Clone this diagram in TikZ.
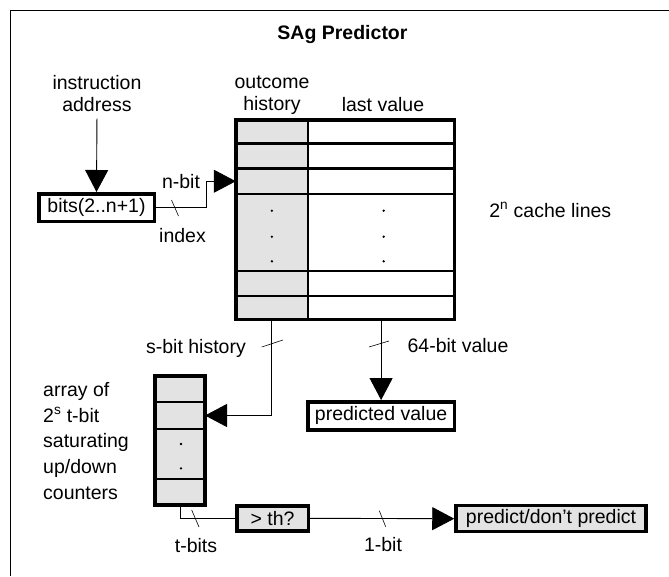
\documentclass[tikz,border=0pt]{standalone}
\usepackage{fontspec}
\setmainfont{Liberation Sans}
\usetikzlibrary{arrows.meta}

\begin{document}
\begin{tikzpicture}[x=1pt, y=-1pt,
    every node/.style={font=\fontsize{19.5}{23}\selectfont},
    bigarrow/.style={-{Triangle[length=22pt, width=23pt]}, line width=0.9pt},
    wire/.style={line width=0.9pt},
    bitmark/.style={line width=0.6pt},
    thickbox/.style={draw, rectangle, line width=3.5pt, inner sep=0pt},
    cell/.style={draw, rectangle, line width=2.3pt, inner sep=0pt, outer sep=0pt},
    shaded/.style={fill=gray!22}]
    \useasboundingbox (0,0) rectangle (669,576);

    % Cadre
    \draw[line width=1pt] (10,576) -- (10,10) -- (669,10);

    % Titre
    \node[font=\fontsize{19.5}{23}\selectfont\bfseries, anchor=base] (title) at (342.5,39) {SAg Predictor};

    % Adresse d'instruction
    \node[align=center, anchor=north, inner sep=0pt, font=\fontsize{19.5}{22}\selectfont] (addr) at (97,75) {instruction\\address};
    \node[thickbox, fill=white, minimum width=115.5pt, minimum height=27.5pt] (bits) at (96.5,207.5) {bits(2..n+1)};

    % Table des lignes de cache
    \node[align=center, anchor=north, inner sep=0pt, font=\fontsize{19.5}{22}\selectfont] (outhist) at (272,75.5) {outcome\\history};
    \node[anchor=base] (lastval) at (383,111) {last value};
    \node[cell, shaded, minimum width=72.25pt, minimum height=23.75pt] (h1) at (271.9,131.6) {};
    \node[cell, shaded, minimum width=72.25pt, minimum height=25pt] (h2) at (271.9,156) {};
    \node[cell, shaded, minimum width=72.25pt, minimum height=25.5pt] (h3) at (271.9,181.25) {};
    \node[cell, shaded, minimum width=72.25pt, minimum height=77pt] (h4) at (271.9,232.5) {};
    \node[cell, shaded, minimum width=72.25pt, minimum height=25pt] (h5) at (271.9,283.5) {};
    \node[cell, shaded, minimum width=72.25pt, minimum height=23.25pt] (h6) at (271.9,307.6) {};
    \node[cell, fill=white, minimum width=146.25pt, minimum height=23.75pt] (v1) at (381.1,131.6) {};
    \node[cell, fill=white, minimum width=146.25pt, minimum height=25pt] (v2) at (381.1,156) {};
    \node[cell, fill=white, minimum width=146.25pt, minimum height=25.5pt] (v3) at (381.1,181.25) {};
    \node[cell, fill=white, minimum width=146.25pt, minimum height=77pt] (v4) at (381.1,232.5) {};
    \node[cell, fill=white, minimum width=146.25pt, minimum height=25pt] (v5) at (381.1,283.5) {};
    \node[cell, fill=white, minimum width=146.25pt, minimum height=23.25pt] (v6) at (381.1,307.6) {};
    \node[thickbox, minimum width=218.5pt, minimum height=199.5pt] (table) at (345,219.5) {};
    \fill (271.9,210.7) circle (1.3pt) (271.9,236.7) circle (1.3pt) (271.9,261.3) circle (1.3pt);
    \fill (383.7,210.7) circle (1.3pt) (383.7,236.7) circle (1.3pt) (383.7,261.3) circle (1.3pt);
    \node[anchor=base] (lines) at (550.3,217) {2\textsuperscript{n} cache lines};

    % Compteurs
    \node[align=left, anchor=north west, inner sep=0pt, font=\fontsize{19.5}{25.75}\selectfont] (arraytxt) at (43,382) {array of\\2\textsuperscript{s} t-bit\\saturating\\up/down\\counters};
    \node[cell, shaded, minimum width=50pt, minimum height=25.95pt] (c1) at (180,388.7) {};
    \node[cell, shaded, minimum width=50pt, minimum height=27.6pt] (c2) at (180,415.5) {};
    \node[cell, shaded, minimum width=50pt, minimum height=49.7pt] (c3) at (180,454.15) {};
    \node[cell, shaded, minimum width=50pt, minimum height=26pt] (c4) at (180,492) {};
    \node[thickbox, minimum width=50pt, minimum height=129.25pt] (counters) at (180,440.4) {};
    \fill (181,444) circle (1.3pt) (181,468.3) circle (1.3pt);

    % Sorties
    \node[thickbox, fill=white, minimum width=146.5pt, minimum height=28pt] (pv) at (381.1,415.8) {predicted value};
    \node[thickbox, shaded, minimum width=71.5pt, minimum height=25pt] (th) at (272.5,518.3) {> th?};
    \node[thickbox, shaded, minimum width=190pt, minimum height=26pt] (pdp) at (551,518.7) {predict/don't predict};

    % Fleches
    \draw[bigarrow, shorten <=7pt] (addr.south) -- (bits.north);
    \draw[bigarrow] (bits.east) -- ++(50,0) |- (h3.west);
    \draw[bigarrow] (h6.south) |- (c2.east);
    \draw[bigarrow] (v6.south) -- (pv.north);
    \draw[wire] (c4.south) |- (th.west);
    \draw[bigarrow] (th.east) -- (pdp.west);

    % Largeurs de bus
    \draw[bitmark] (171.5,200) -- (178.5,216);
    \draw[bitmark] (261.7,347) -- (283,340);
    \draw[bitmark] (369,347) -- (389,341);
    \draw[bitmark] (191.7,510) -- (199,527);
    \draw[bitmark] (379.3,510.7) -- (385.7,526.7);
    \node[anchor=base] (nbit) at (181,188.5) {n-bit};
    \node[anchor=base] (index) at (182.5,242) {index};
    \node[anchor=base] (sbit) at (196,353.5) {s-bit history};
    \node[anchor=base] (vbits) at (458,352.5) {64-bit value};
    \node[anchor=base] (tbits) at (196,552) {t-bits};
    \node[anchor=base] (onebit) at (383,551) {1-bit};

\end{tikzpicture}
\end{document}
